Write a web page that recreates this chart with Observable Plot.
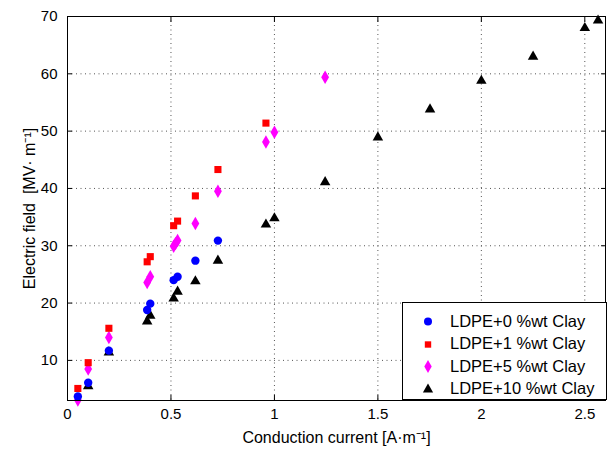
<!DOCTYPE html>
<html>
<head>
<meta charset="utf-8">
<script src="https://cdn.jsdelivr.net/npm/d3@7"></script>
<script src="https://cdn.jsdelivr.net/npm/@observablehq/plot@0.6"></script>
<style>
  body { margin: 0; background: #fff; font-family: "Liberation Sans", Arial, sans-serif; }
  #wrap { position: relative; width: 613px; height: 450px; }
  #legend { position: absolute; left: 402px; top: 302px; width: 205px; height: 98px;
    border: 1px solid #000; background: #fff; font-size: 16.5px; box-sizing: border-box; color: #000; }
  .row { display: flex; align-items: center; height: 22.5px; }
  .row:first-child { margin-top: 7px; }
  .row svg { margin-left: 18px; margin-right: 15px; flex: none; }
</style>
</head>
<body>
<div id="wrap"></div>
<script>
const seriesNames = ["LDPE+0 %wt Clay", "LDPE+1 %wt Clay", "LDPE+5 %wt Clay", "LDPE+10 %wt Clay"];
const seriesColors = ["#0000ff", "#ff0000", "#ff00ff", "#000000"];
const seriesSymbols = ["circle", "square", "diamond", "triangle"];

const clay0_x = [0.05, 0.10, 0.20, 0.385, 0.40, 0.513, 0.532, 0.618, 0.727];
const clay0_y = [3.7, 6.1, 11.7, 18.8, 19.9, 24.0, 24.6, 27.4, 30.9];

const clay1_x = [0.05, 0.10, 0.20, 0.385, 0.40, 0.513, 0.532, 0.618, 0.727, 0.959];
const clay1_y = [5.1, 9.6, 15.6, 27.2, 28.1, 33.5, 34.3, 38.7, 43.3, 51.4];

const clay5_x = [0.05, 0.10, 0.20, 0.385, 0.40, 0.513, 0.522, 0.532, 0.618, 0.727, 0.959, 1.0, 1.245];
const clay5_y = [3.1, 8.5, 14.0, 23.6, 24.6, 29.9, 30.4, 30.9, 33.9, 39.5, 48.1, 49.8, 59.4];

const clay10_x = [0.10, 0.20, 0.385, 0.40, 0.513, 0.532, 0.618, 0.727, 0.959, 1.0, 1.245, 1.5, 1.752, 2.0, 2.25, 2.5, 2.564];
const clay10_y = [5.5, 11.4, 16.8, 17.8, 20.8, 22.0, 23.8, 27.4, 33.7, 34.8, 41.1, 48.9, 53.8, 58.8, 63.0, 68.0, 69.3];

const xTicks = [0, 0.5, 1, 1.5, 2, 2.5];
const yTicks = [10, 20, 30, 40, 50, 60, 70];

const toRows = (xs, ys, s) => xs.map((x, i) => ({x, y: ys[i], s}));
const allX = [clay0_x, clay1_x, clay5_x, clay10_x];
const allY = [clay0_y, clay1_y, clay5_y, clay10_y];
const markerR = [4.2, 4.0, 4.1, 3.9];
// draw order: 10%, 5%, 1%, 0% (blue on top)
const drawOrder = [3, 2, 1, 0];
const dotMarks = drawOrder.map(i => Plot.dot(toRows(allX[i], allY[i], i), {
  x: "x", y: "y", symbol: () => seriesSymbols[i], fill: seriesColors[i], stroke: "none",
  r: markerR[i]
}));

const chart = Plot.plot({
  width: 613,
  height: 450,
  marginLeft: 67,
  marginRight: 8,
  marginTop: 16,
  marginBottom: 50,
  style: { fontFamily: "Liberation Sans, Arial, sans-serif", fontSize: "15px", background: "#fff", color: "#000" },
  x: { domain: [0, 2.6], ticks: xTicks },
  y: { domain: [3, 70], ticks: yTicks },
  symbol: { type: "identity" },
  marks: [
    Plot.gridX(xTicks, { stroke: "#555", strokeOpacity: 1, strokeDasharray: "1,3.5", strokeWidth: 1 }),
    Plot.gridY(yTicks, { stroke: "#555", strokeOpacity: 1, strokeDasharray: "1,3.5", strokeWidth: 1 }),
    Plot.axisX(xTicks, { anchor: "bottom", tickSize: -5, tickPadding: 13, tickFormat: d => String(d),
      label: "Conduction current [A·m⁻¹]", labelAnchor: "center", labelOffset: 42, labelArrow: "none", fontSize: 15 }),
    Plot.axisX(xTicks, { anchor: "top", tickSize: -5, tickFormat: () => "", label: null }),
    Plot.axisY(yTicks, { anchor: "left", tickSize: -5, tickPadding: 15, tickFormat: d => String(d),
      label: "Electric field  [MV· m⁻¹]", labelAnchor: "center", labelOffset: 44, labelArrow: "none", fontSize: 15 }),
    Plot.axisY(yTicks, { anchor: "right", tickSize: -5, tickFormat: () => "", label: null }),
    ...dotMarks,
    Plot.frame({ stroke: "#000", strokeWidth: 1 })
  ]
});

chart.querySelectorAll('g[aria-label$="axis label"]').forEach(g => {
  g.setAttribute("font-size", "16px");
  g.querySelectorAll("text").forEach(t => t.setAttribute("font-size", "16px"));
});

const wrap = document.getElementById("wrap");
wrap.appendChild(chart);

// Legend
const legend = document.createElement("div");
legend.id = "legend";
seriesNames.forEach((name, i) => {
  const row = document.createElement("div");
  row.className = "row";
  const sym = { circle: d3.symbolCircle, square: d3.symbolSquare, diamond: d3.symbolDiamond, triangle: d3.symbolTriangle }[seriesSymbols[i]];
  const r = [4.0, 3.6, 3.9, 3.8][i];
  const svg = d3.create("svg").attr("width", 14).attr("height", 14);
  svg.append("path").attr("transform", "translate(7,7.5)")
    .attr("d", d3.symbol(sym, Math.PI * r * r)()).attr("fill", seriesColors[i]);
  row.appendChild(svg.node());
  const t = document.createElement("span");
  t.textContent = name;
  row.appendChild(t);
  legend.appendChild(row);
});
wrap.appendChild(legend);
</script>
</body>
</html>
